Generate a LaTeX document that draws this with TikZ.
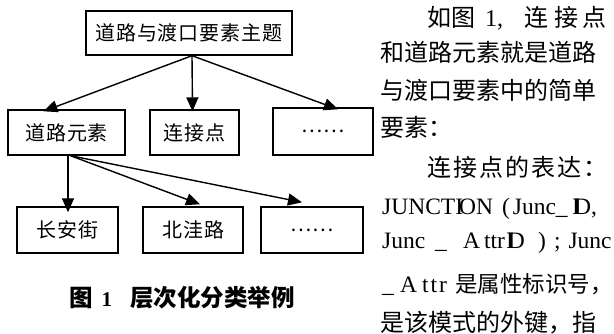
\documentclass[tikz,border=0pt]{standalone}
\usepackage{fontspec}
\setmainfont{Liberation Serif}
\newfontfamily\cjk{Noto Sans CJK SC}
\newfontfamily\boxfont{Noto Sans CJK SC}[LetterSpace=5]
\newfontfamily\latf{Liberation Serif}
\usetikzlibrary{arrows.meta,calc}
\begin{document}
\begin{tikzpicture}[x=1pt,y=-1pt,
  elem/.style={draw, line width=1.4pt, inner sep=0pt, font=\boxfont\fontsize{20}{22}\selectfont},
  arr/.style={line width=1.4pt, -{Triangle[length=14pt,width=12pt]}},
  txt/.style={anchor=base west, inner sep=0pt, font=\cjk\fontsize{24}{26}\selectfont},
  lat/.style={anchor=base west, inner sep=0pt, font=\latf\fontsize{23.5}{25}\selectfont}]
\useasboundingbox (0,0) rectangle (614,334);
% boxes
\node[elem, minimum width=206pt, minimum height=44pt] (top) at (189,33) {道路与渡口要素主题};
\node[elem, minimum width=117pt, minimum height=45pt] (r1) at (66.5,132.5) {道路元素};
\node[elem, minimum width=89pt, minimum height=45pt] (r2) at (194.5,132.5) {连接点};
\node[elem, minimum width=100pt, minimum height=47pt] (r3) at (323,131.5) {……};
\node[elem, minimum width=101pt, minimum height=46pt] (b1) at (67.5,230) {长安街};
\node[elem, minimum width=100pt, minimum height=46pt] (b2) at (193,230) {北洼路};
\node[elem, minimum width=102pt, minimum height=46pt] (b3) at (312,230) {……};
% arrows
\draw[arr] ($(top.south)+(3,0)$) -- ($(r1.north)+(-23,2)$);
\draw[arr] ($(top.south)+(3,0)$) -- ($(r2.north)+(-2,2)$);
\draw[arr] ($(top.south)+(3,0)$) -- ($(r3.north)+(15,2)$);
\draw[arr] ($(r1.south)+(1.5,0)$) -- ($(b1.north)+(0.5,6)$);
\draw[arr] ($(r1.south)+(4,0)$) -- ($(b2.north)+(7,-2)$);
\draw[arr] ($(r1.south)+(4,0)$) -- ($(b3.north)+(-10,-4)$);
% caption
\node[anchor=base west, inner sep=0pt] (cap) at (69,306)
  {\cjk\bfseries\fontsize{23.5}{25}\selectfont 图\hspace{9pt}{\rmfamily\bfseries\fontsize{21}{23}\selectfont 1}\hspace{18pt}层次化分类举例};
% right text
\node[txt] (l1) at (427,27) {\makebox[179pt][s]{如图\hspace{10pt}{\latf 1,}\hfill 连\hspace{6pt}接\hspace{4pt}点}};
\node[txt] (l2) at (380,62) {和道路元素就是道路};
\node[txt] (l3) at (380,100) {与渡口要素中的简单};
\node[txt] (l4) at (380,137) {要素：};
\node[txt] (l5) at (427,177) {\makebox[180pt][s]{连\hfill 接\hfill 点\hfill 的\hfill 表\hfill 达\hfill ：}};
\node[lat] (l6a) at (382,215) {JUNCTI\kern-4pt ON\hspace{9pt}(\kern3pt Junc\_};
\node[lat] (l6c) at (572,215) {I\kern-6pt D,};
\node[lat] (l7a) at (382,249) {Junc};
\node[lat] (l7b) at (435,249) {\_};
\node[lat] (l7c) at (463,249) {A\kern4pt ttr\kern1pt I\kern-6pt D};
\node[lat] (l7d) at (538,249) {)\hspace{8pt};\hspace{8pt}Junc};
\node[lat] (l8a) at (382,292) {\_};
\node[lat] (l8b) at (400,292) {A\kern5pt t\kern2pt t\kern2pt r};
\node[txt] (l8c) at (455,292) {\fontsize{22.5}{25}\selectfont 是属性标识号，};
\node[txt] (l9) at (380,331) {是该模式的外键，指};
\end{tikzpicture}
\end{document}
